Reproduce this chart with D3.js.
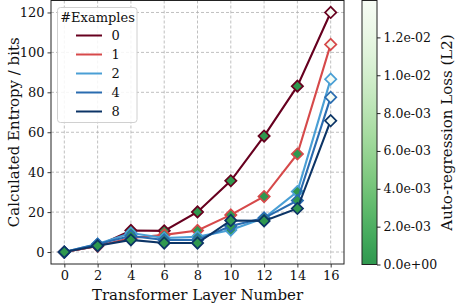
<!DOCTYPE html>
<html><head><meta charset="utf-8">
<script src="https://cdn.jsdelivr.net/npm/d3@7"></script>
<style>body{margin:0;background:#fff}svg{display:block}text{font-family:"DejaVu Serif",serif;fill:#111}</style>
</head><body><svg id="c" width="457" height="304"></svg>
<script>
const layers = [0, 2, 4, 6, 8, 10, 12, 14, 16];
const exampleCounts = ["0", "1", "2", "4", "8"];
const entropy0 = [0, 3, 10.8, 10.6, 20.1, 35.7, 58.1, 83.1, 120];
const entropy1 = [0, 3, 7, 8.6, 10.8, 18.6, 27.8, 49.1, 104];
const entropy2 = [0, 4, 9.5, 7, 7.6, 11, 17, 30.3, 86.6];
const entropy4 = [0, 4, 8, 6, 6, 13, 17, 25.8, 77.5];
const entropy8 = [0, 3.1, 6.1, 4.5, 4.5, 15.8, 15.6, 21.8, 65.8];
const loss0 = [0, 0, 0, 0, 0, 0, 0, 0, 0.0139];
const loss1 = [0, 0, 0, 0, 0, 0, 0, 0, 0.0136];
const loss2 = [0, 0, 0, 0, 0, 0, 0, 0, 0.0137];
const loss4 = [0, 0, 0, 0, 0, 0, 0, 0, 0.0137];
const loss8 = [0, 0, 0, 0, 0, 0, 0, 0, 0.0138];
const seriesColors = ["#67001f", "#d6494a", "#4a9fd5", "#2a6cb0", "#0c3466"];
const xTicks = [0, 2, 4, 6, 8, 10, 12, 14, 16];
const yTicks = [0, 20, 40, 60, 80, 100, 120];
const cbTicks = [0, 0.002, 0.004, 0.006, 0.008, 0.010, 0.012];
const lossMax = 0.01395;

const entropies = [entropy0, entropy1, entropy2, entropy4, entropy8];
const losses = [loss0, loss1, loss2, loss4, loss8];

const svg = d3.select("#c");
const L = 51, R = 344, T = 0.5, B = 264;
const FS = "13px";
const x = d3.scaleLinear().domain([-0.8, 16.8]).range([L, R]);
const y = d3.scaleLinear().domain([-6, 126]).range([B, T]);
const cmap = v => d3.interpolateGreens(0.7 - 0.7 * v / lossMax);

// grid
const g = svg.append("g");
g.selectAll(".gx").data(xTicks).join("line")
  .attr("x1", d => x(d)).attr("x2", d => x(d)).attr("y1", T).attr("y2", B)
  .attr("stroke", "#b0b0b0").attr("stroke-width", 0.8).attr("stroke-dasharray", "3,2");
g.selectAll(".gy").data(yTicks).join("line")
  .attr("y1", d => y(d)).attr("y2", d => y(d)).attr("x1", L).attr("x2", R)
  .attr("stroke", "#b0b0b0").attr("stroke-width", 0.8).attr("stroke-dasharray", "3,2");

// axes
const xAxis = svg.append("g").attr("transform", `translate(0,${B})`)
  .call(d3.axisBottom(x).tickValues(xTicks).tickSize(3.5).tickPadding(3));
const yAxis = svg.append("g").attr("transform", `translate(${L},0)`)
  .call(d3.axisLeft(y).tickValues(yTicks).tickSize(3.5).tickPadding(3));
[xAxis, yAxis].forEach(a => {
  a.select(".domain").remove();
  a.selectAll("text").style("font-size", FS).style("font-family", "DejaVu Serif").attr("fill", "#111");
  a.selectAll("line").attr("stroke", "#222").attr("stroke-width", 0.9);
});

// lines and markers
const line = d3.line().x((d, i) => x(layers[i])).y(d => y(d));
entropies.forEach((vals, s) => {
  svg.append("path").attr("d", line(vals)).attr("fill", "none")
    .attr("stroke", seriesColors[s]).attr("stroke-width", 2.1);
  svg.append("g").selectAll("path").data(vals).join("path")
    .attr("d", d3.symbol().type(d3.symbolSquare).size(64))
    .attr("transform", (d, i) => `translate(${x(layers[i])},${y(d)}) rotate(45)`)
    .attr("fill", (d, i) => cmap(losses[s][i]))
    .attr("stroke", seriesColors[s]).attr("stroke-width", 1.7);
});

// spines
svg.append("rect").attr("x", L).attr("y", T).attr("width", R - L).attr("height", B - T)
  .attr("fill", "none").attr("stroke", "#222").attr("stroke-width", 1);

// axis labels
svg.append("text").attr("x", (L + R) / 2).attr("y", 300).attr("text-anchor", "middle")
  .style("font-size", "15px").text("Transformer Layer Number");
svg.append("text").attr("transform", `translate(14,${(T + B) / 2}) rotate(-90)`)
  .attr("text-anchor", "middle").attr("dy", "0.3em").style("font-size", "15px").text("Calculated Entropy / bits");

// legend
const lg = svg.append("g");
lg.append("rect").attr("x", 57.5).attr("y", 7.5).attr("width", 79.5).attr("height", 115)
  .attr("rx", 3).attr("fill", "#fff").attr("fill-opacity", 0.85).attr("stroke", "#d0d0d0").attr("stroke-width", 1);
lg.append("text").attr("x", 97.5).attr("y", 22).attr("text-anchor", "middle")
  .style("font-size", FS).text("#Examples");
exampleCounts.forEach((lab, i) => {
  const yy = 35.5 + i * 19;
  lg.append("line").attr("x1", 76).attr("x2", 102).attr("y1", yy).attr("y2", yy)
    .attr("stroke", seriesColors[i]).attr("stroke-width", 2);
  lg.append("text").attr("x", 111.5).attr("y", yy + 4.5).style("font-size", FS).text(lab);
});

// colorbar
const cbL = 362, cbW = 15, cbT = 0.5, cbB = 264.5;
const cy = d3.scaleLinear().domain([0, lossMax]).range([cbB, cbT]);
const defs = svg.append("defs");
const grad = defs.append("linearGradient").attr("id", "cbg").attr("x1", 0).attr("x2", 0).attr("y1", 1).attr("y2", 0);
d3.range(0, 1.0001, 0.05).forEach(t => {
  grad.append("stop").attr("offset", t).attr("stop-color", cmap(t * lossMax));
});
svg.append("rect").attr("x", cbL).attr("y", cbT).attr("width", cbW).attr("height", cbB - cbT)
  .attr("fill", "url(#cbg)").attr("stroke", "#222").attr("stroke-width", 1);
const cbAxis = svg.append("g").attr("transform", `translate(${cbL + cbW},0)`)
  .call(d3.axisRight(cy).tickValues(cbTicks).tickSize(3.5).tickPadding(3)
    .tickFormat(d => { const s = d.toExponential(1); return s.replace(/e([+-])(\d)$/, "e$10$2"); }));
cbAxis.select(".domain").remove();
cbAxis.selectAll("text").style("font-size", "12.5px").style("font-family", "DejaVu Serif").attr("fill", "#111");
cbAxis.selectAll("line").attr("stroke", "#222");
svg.append("text").attr("transform", `translate(447,${(cbT + cbB) / 2}) rotate(-90)`)
  .attr("text-anchor", "middle").attr("dy", "0.35em").style("font-size", "15px").text("Auto-regression Loss (L2)");
</script></body></html>
